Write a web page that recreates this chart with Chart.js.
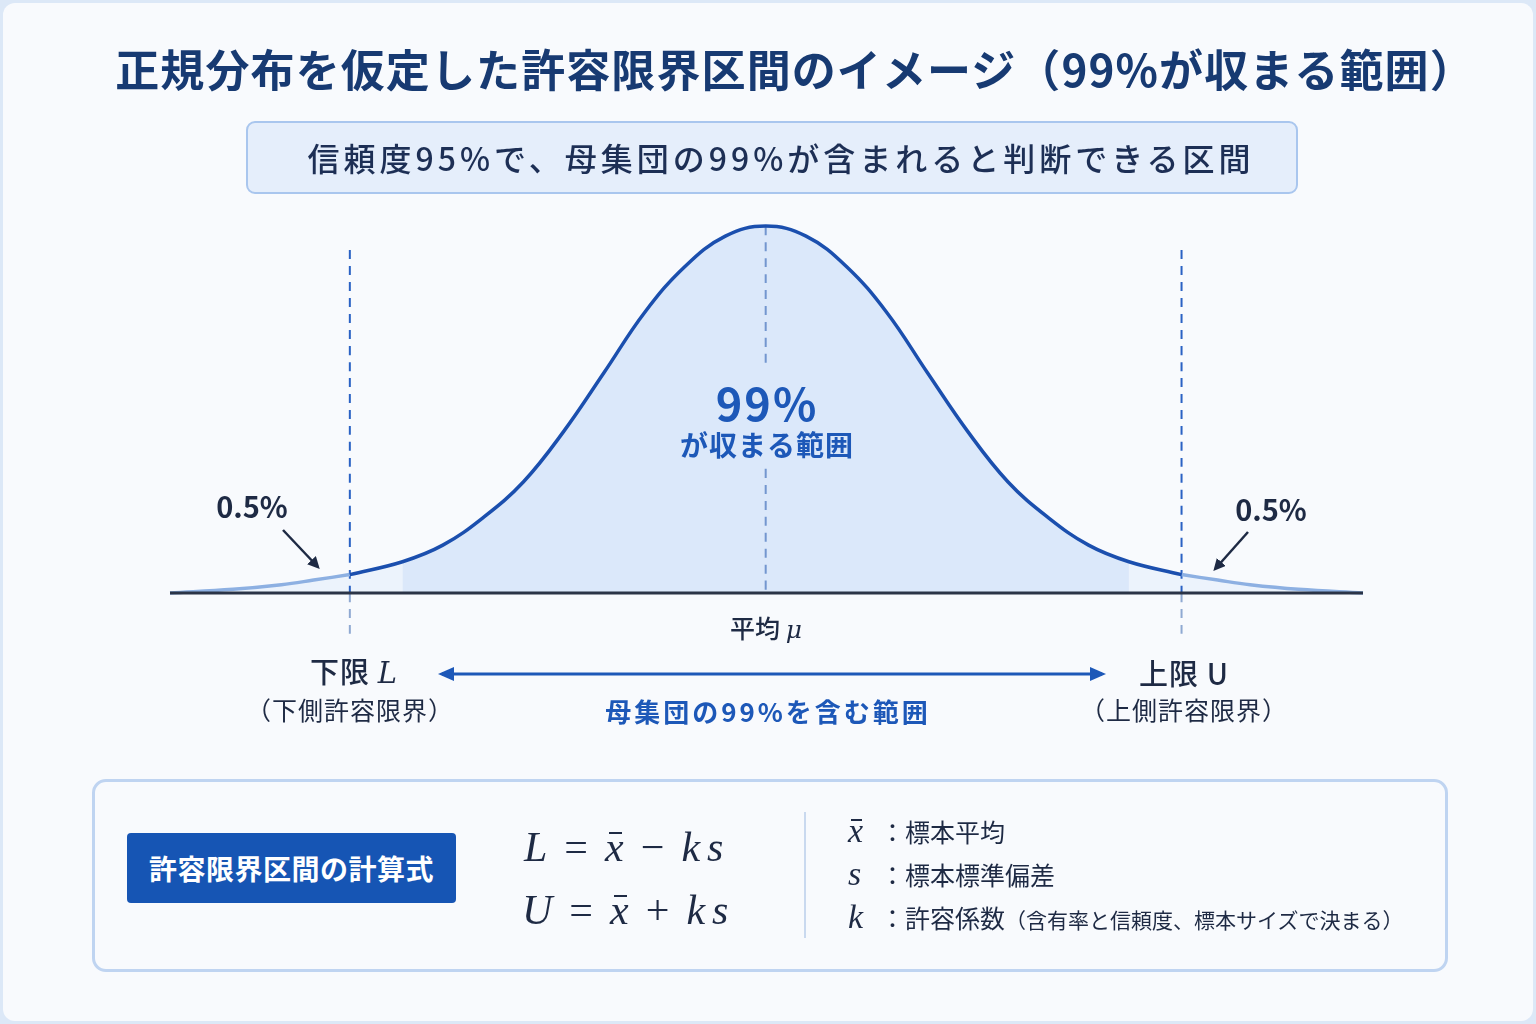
<!DOCTYPE html>
<html lang="ja">
<head>
<meta charset="utf-8">
<script src="https://cdn.jsdelivr.net/npm/chart.js@4.4.1/dist/chart.umd.min.js"></script>
<style>
  html,body{margin:0;padding:0;}
  body{width:1536px;height:1024px;background:#dce8f7;position:relative;overflow:hidden;font-family:"Noto Sans CJK JP","Noto Sans",sans-serif;}
  #card{position:absolute;left:3px;top:3px;right:3px;bottom:3px;background:#f8fafd;border-radius:12px;}
  #chart{position:absolute;left:0;top:0;width:1536px;height:1024px;z-index:1;}
  .t{position:absolute;white-space:nowrap;z-index:3;transform:translate(-50%,-50%);line-height:1;}
  #title{left:795px;top:68px;font-size:44px;font-weight:700;color:#173a72;letter-spacing:1.1px;}
  #subbox{position:absolute;left:246px;top:121px;width:1048px;height:69px;background:#e5eefb;border:2px solid #a9c6ee;border-radius:9px;z-index:2;}
  #sub{left:781px;top:157px;font-size:32px;font-weight:500;color:#1d2f55;letter-spacing:4px;}
  #p99{left:767px;top:401px;font-size:45px;font-weight:700;color:#1d58b8;letter-spacing:2px;}
  #p99b{left:767px;top:444px;font-size:28px;font-weight:700;color:#1d58b8;letter-spacing:1px;}
  .half{font-size:29px;font-weight:700;color:#1e2a44;}
  #hl{left:252px;top:505px;}
  #hr{left:1271px;top:508px;}
  #mu{left:766px;top:628px;font-size:25px;font-weight:500;color:#1e2a44;}
  .it{font-family:"DejaVu Serif","Liberation Serif",serif;font-style:italic;}
  #lo{left:354px;top:672px;font-size:29px;font-weight:500;color:#1e2a44;letter-spacing:1px;}
  #lo2{left:350px;top:709px;font-size:25px;color:#1e2a44;letter-spacing:1px;}
  #up{left:1184px;top:672px;font-size:29px;font-weight:500;color:#1e2a44;letter-spacing:1px;}
  #up2{left:1184px;top:709px;font-size:25px;color:#1e2a44;letter-spacing:1px;}
  #range{left:768px;top:711px;font-size:26px;font-weight:700;color:#1d58b8;letter-spacing:3px;}
  #box{position:absolute;left:92px;top:779px;width:1350px;height:187px;border:3px solid #bfd4f1;border-radius:14px;background:#f8fafd;z-index:2;}
  #btn{position:absolute;left:127px;top:833px;width:329px;height:70px;background:#1655b4;border-radius:4px;z-index:3;color:#fff;font-size:28px;font-weight:700;display:flex;align-items:center;justify-content:center;letter-spacing:0.5px;}
  .f{position:absolute;z-index:3;font-family:"Liberation Serif","DejaVu Serif",serif;font-size:42px;color:#1e2a44;white-space:nowrap;line-height:1;}
  .f i{font-style:italic;}
  .f .op{display:inline-block;margin:0 17px;font-style:normal;}
  .f .k{margin-right:7px;}
  .xbar{position:relative;display:inline-block;font-style:italic;}
  .xbar::before{content:"";position:absolute;left:22%;right:8%;top:0.14em;height:2px;background:#1e2a44;}
  #f1{left:524px;top:826px;}
  #f2{left:522px;top:889px;}
  #div{position:absolute;left:804px;top:812px;width:2px;height:126px;background:#c9d9ef;z-index:3;}
  .lg{position:absolute;z-index:3;left:848px;white-space:nowrap;font-size:25px;color:#1e2a44;line-height:1;}
  .lg .sym{font-family:"Liberation Serif","DejaVu Serif",serif;font-style:italic;font-size:34px;display:inline-block;width:32px;}
  .lg .sm{font-size:21px;}
  #l1{top:814px;}
  #l2{top:857px;}
  #l3{top:900px;}
  svg{position:absolute;left:0;top:0;z-index:2;}
</style>
</head>
<body>
<div id="card"></div>
<div id="subbox"></div>
<div id="box"></div>
<canvas id="chart" width="1536" height="1024"></canvas>
<svg width="1536" height="1024" viewBox="0 0 1536 1024">
  <defs>
    <marker id="ah" markerWidth="12" markerHeight="12" refX="8" refY="6" orient="auto" markerUnits="userSpaceOnUse">
      <path d="M0,0 L12,6 L0,12 z" fill="#1e2a44"/>
    </marker>
    <marker id="bh" markerWidth="16" markerHeight="16" refX="12" refY="8" orient="auto-start-reverse" markerUnits="userSpaceOnUse">
      <path d="M0,1 L16,8 L0,15 z" fill="#1d58b8"/>
    </marker>
  </defs>
  <line x1="283" y1="530" x2="317" y2="566" stroke="#1e2a44" stroke-width="2.5" marker-end="url(#ah)"/>
  <line x1="1248" y1="532" x2="1216" y2="568" stroke="#1e2a44" stroke-width="2.5" marker-end="url(#ah)"/>
  <line x1="442" y1="674" x2="1102" y2="674" stroke="#1d58b8" stroke-width="3" marker-start="url(#bh)" marker-end="url(#bh)"/>
</svg>
<div class="t" id="title">正規分布を仮定した許容限界区間のイメージ（99%が収まる範囲）</div>
<div class="t" id="sub">信頼度95%で、母集団の99%が含まれると判断できる区間</div>
<div class="t" id="p99">99%</div>
<div class="t" id="p99b">が収まる範囲</div>
<div class="t half" id="hl">0.5%</div>
<div class="t half" id="hr">0.5%</div>
<div class="t" id="mu">平均 <span class="it">μ</span></div>
<div class="t" id="lo">下限 <span class="it">L</span></div>
<div class="t" id="lo2">（下側許容限界）</div>
<div class="t" id="up">上限 U</div>
<div class="t" id="up2">（上側許容限界）</div>
<div class="t" id="range">母集団の99%を含む範囲</div>
<div id="btn">許容限界区間の計算式</div>
<div class="f" id="f1"><i>L</i><span class="op">=</span><span class="xbar">x</span><span class="op">−</span><i class="k">k</i><i>s</i></div>
<div class="f" id="f2"><i>U</i><span class="op">=</span><span class="xbar">x</span><span class="op">+</span><i class="k">k</i><i>s</i></div>
<div id="div"></div>
<div class="lg" id="l1"><span class="sym"><span class="xbar">x</span></span>：標本平均</div>
<div class="lg" id="l2"><span class="sym">s</span>：標本標準偏差</div>
<div class="lg" id="l3"><span class="sym">k</span>：許容係数<span class="sm">（含有率と信頼度、標本サイズで決まる）</span></div>

<script>
// ---- data (x in standard-deviation units, y = density) ----
const curveX = [-3.69, -3.3, -3.0, -2.8, -2.576, -2.25, -2.0, -1.75, -1.5, -1.25, -1.0, -0.75, -0.5, -0.25, 0,
                0.25, 0.5, 0.75, 1.0, 1.25, 1.5, 1.75, 2.0, 2.25, 2.576, 2.8, 3.0, 3.3, 3.70];
const curveY = [0, 0.004, 0.009, 0.014, 0.020, 0.034, 0.052, 0.082, 0.121, 0.176, 0.240, 0.305, 0.355, 0.388, 0.399,
                0.388, 0.355, 0.305, 0.240, 0.176, 0.121, 0.082, 0.052, 0.034, 0.020, 0.014, 0.009, 0.004, 0];
const lowerLimit = -2.576;   // L
const upperLimit = 2.576;    // U
const meanValue = 0;         // μ
const shadeFrom = -2.25;
const shadeTo = 2.25;
const limitLineTop = 0.373;
const limitLineBottom = -0.051;
const meanGapTop = 0.245;
const meanGapBottom = 0.135;
const peakValue = 0.399;
const xRange = [-3.69, 3.70];
const yRange = [-0.062, 0.4273];

const pts = curveX.map((x, i) => ({x: x, y: curveY[i]}));
const between = (a, b) => pts.filter(p => p.x >= a - 1e-9 && p.x <= b + 1e-9);

const base = {pointRadius: 0, borderWidth: 0, fill: false, clip: false, tension: 0.4};

const datasets = [
  Object.assign({}, base, {data: pts, fill: 'origin', backgroundColor: 'rgba(222,234,250,0.45)', order: 12}),
  Object.assign({}, base, {data: between(shadeFrom, shadeTo), fill: 'origin', backgroundColor: '#dbe8fa', order: 11}),
  Object.assign({}, base, {data: between(curveX[0], lowerLimit), borderColor: '#8db0e2', borderWidth: 3.5, order: 3}),
  Object.assign({}, base, {data: between(upperLimit, curveX[curveX.length - 1]), borderColor: '#8db0e2', borderWidth: 3.5, order: 3}),
  Object.assign({}, base, {data: between(lowerLimit, upperLimit), borderColor: '#1b4fae', borderWidth: 3.5, order: 2}),
  // mean dashed line (interrupted by the label)
  Object.assign({}, base, {data: [{x: meanValue, y: peakValue}, {x: meanValue, y: meanGapTop}], borderColor: '#7396cf', borderWidth: 2, borderDash: [9, 7], order: 4}),
  Object.assign({}, base, {data: [{x: meanValue, y: meanGapBottom}, {x: meanValue, y: 0}], borderColor: '#7396cf', borderWidth: 2, borderDash: [9, 7], order: 4}),
  // limit lines
  Object.assign({}, base, {data: [{x: lowerLimit, y: limitLineTop}, {x: lowerLimit, y: 0}], borderColor: '#2a62c4', borderWidth: 2, borderDash: [9, 7], order: 4}),
  Object.assign({}, base, {data: [{x: upperLimit, y: limitLineTop}, {x: upperLimit, y: 0}], borderColor: '#2a62c4', borderWidth: 2, borderDash: [9, 7], order: 4}),
  Object.assign({}, base, {data: [{x: lowerLimit, y: 0}, {x: lowerLimit, y: limitLineBottom}], borderColor: '#8fa9d2', borderWidth: 2, borderDash: [9, 7], order: 4}),
  Object.assign({}, base, {data: [{x: upperLimit, y: 0}, {x: upperLimit, y: limitLineBottom}], borderColor: '#8fa9d2', borderWidth: 2, borderDash: [9, 7], order: 4}),
  // baseline
  Object.assign({}, base, {data: [{x: xRange[0], y: 0}, {x: xRange[1], y: 0}], borderColor: '#2b3447', borderWidth: 3, order: 1})
];

new Chart(document.getElementById('chart'), {
  type: 'line',
  data: {datasets: datasets},
  options: {
    responsive: false,
    animation: false,
    events: [],
    layout: {padding: {left: 170, right: 173, top: 200, bottom: 374}},
    plugins: {legend: {display: false}, tooltip: {enabled: false}},
    scales: {
      x: {type: 'linear', display: false, min: xRange[0], max: xRange[1]},
      y: {type: 'linear', display: false, min: yRange[0], max: yRange[1]}
    }
  }
});
</script>
</body>
</html>
